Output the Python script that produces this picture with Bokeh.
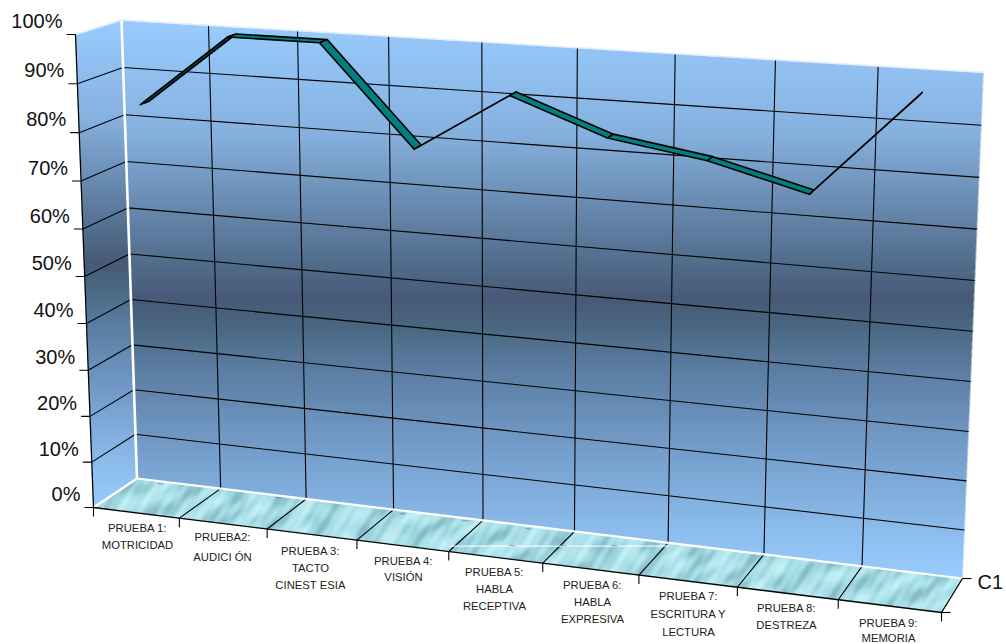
import numpy as np
from bokeh.plotting import figure
from bokeh.core.properties import value
from bokeh.embed import file_html
from bokeh.resources import INLINE

# Chart data
categories = [
    ["PRUEBA 1:", "MOTRICIDAD"],
    ["PRUEBA2:", "AUDICI ÓN"],
    ["PRUEBA 3:", "TACTO", "CINEST ESIA"],
    ["PRUEBA 4:", "VISIÓN"],
    ["PRUEBA 5:", "HABLA", "RECEPTIVA"],
    ["PRUEBA 6:", "HABLA", "EXPRESIVA"],
    ["PRUEBA 7:", "ESCRITURA Y", "LECTURA"],
    ["PRUEBA 8:", "DESTREZA"],
    ["PRUEBA 9:", "MEMORIA"],
]
scores = [85, 100, 100, 80, 92, 85, 82, 77, 97]
percent_ticks = [0, 10, 20, 30, 40, 50, 60, 70, 80, 90, 100]
series_name = "C1"

W, H = 1006, 644
# Corners of the chart box in page pixels (y measured from the top)
BACK = [(136.5, 478), (962, 578), (983, 72), (121, 19.5)]
FRONT = [(93, 507), (941, 612), (966, 90), (75, 34)]


def homography(corners):
    src = [(0, 0), (1, 0), (1, 1), (0, 1)]
    a, b = [], []
    for (u, v), (x, y) in zip(src, corners):
        a.append([u, v, 1, 0, 0, 0, -u * x, -v * x])
        a.append([0, 0, 0, u, v, 1, -u * y, -v * y])
        b += [x, y]
    return np.append(np.linalg.solve(np.array(a, float), np.array(b, float)), 1).reshape(3, 3)


H_BACK, H_FRONT = homography(BACK), homography(FRONT)


def apply(h, u, v):
    q = h @ np.array([u, v, 1.0])
    return q[:2] / q[2]


def project(u, v, w):
    """u: along categories 0-1, v: value 0-1, w: depth 0 at back wall, 1 at front."""
    return (1 - w) * apply(H_BACK, u, v) + w * apply(H_FRONT, u, v)


def flip(pt):
    return float(pt[0]), float(H - pt[1])


# Wall and floor fill, rasterised once with soft polygon edges
SS = 3
xs = (np.arange(W * SS) + 0.5) / SS
ys = (np.arange(H * SS) + 0.5) / SS
GX, GY = np.meshgrid(xs, ys)


def coverage(poly):
    inside = np.ones(GX.shape, bool)
    n = len(poly)
    area = sum(poly[i][0] * poly[(i + 1) % n][1] - poly[(i + 1) % n][0] * poly[i][1] for i in range(n))
    sign = 1 if area > 0 else -1
    for i in range(n):
        (x0, y0), (x1, y1) = poly[i], poly[(i + 1) % n]
        inside &= sign * ((x1 - x0) * (GY - y0) - (y1 - y0) * (GX - x0)) >= 0
    return inside.reshape(H, SS, W, SS).mean(axis=(1, 3))


PX, PY = np.meshgrid(np.arange(W) + 0.5, np.arange(H) + 0.5)
STOPS = [0, 0.20, 0.36, 0.44, 0.50, 0.55, 0.62, 0.75, 0.90, 1]
REDS = [0x99, 0x87, 0x62, 0x50, 0x47, 0x4A, 0x5A, 0x72, 0x8A, 0x99]
GREENS = [0xCC, 0xB2, 0x82, 0x6C, 0x5A, 0x68, 0x7C, 0x99, 0xBA, 0xCC]
BLUES = [0xFF, 0xE0, 0xA6, 0x8A, 0x78, 0x82, 0xA0, 0xC6, 0xEA, 0xFF]


def wall_gradient(top, bottom):
    f = (PY - top) / (bottom - top)
    return np.dstack([np.interp(f, STOPS, c) for c in (REDS, GREENS, BLUES)])


def floor_texture():
    a = PX + 1.05 * PY
    b = PX * 0.35 - PY * 0.9
    n = (0.50 * np.sin(a * 0.105 + 1.0 + 1.3 * np.sin(b * 0.07))
         + 0.35 * np.sin(a * 0.27 + 2.0 + 1.1 * np.sin(b * 0.11 + 0.5))
         + 0.30 * np.sin(b * 0.23 + 0.7 * np.sin(a * 0.05)) * np.sin(a * 0.06 + 0.4)
         + 0.22 * np.sin(a * 0.53 + b * 0.21))
    n = np.clip(n, -1, 1)
    dark, mid, light = (0x86, 0xBC, 0xC5), (0xA8, 0xDF, 0xE8), (0xC2, 0xF0, 0xF5)
    return np.dstack([np.interp(n, [-1, 0, 1], [dark[i], mid[i], light[i]]) for i in range(3)])


left_poly = [FRONT[3], BACK[3], BACK[0], FRONT[0]]
floor_poly = [BACK[0], BACK[1], FRONT[1], FRONT[0]]

rgb = np.full((H, W, 3), 255.0)
for poly, fill in [(BACK, wall_gradient(19.5, 578)),
                   (left_poly, wall_gradient(19.5, 507)),
                   (floor_poly, floor_texture())]:
    alpha = coverage(poly)[..., None]
    rgb = rgb * (1 - alpha) + fill * alpha
rgb = rgb.astype(np.uint8)
rgba = np.dstack([rgb, np.full((H, W), 255, np.uint8)])
img = rgba[::-1].copy().view(dtype=np.uint32).reshape(H, W)

p = figure(width=W, height=H, x_range=(0, W), y_range=(0, H), output_backend="svg",
           toolbar_location=None, min_border=0, x_axis_type=None, y_axis_type=None)
p.grid.visible = False
p.outline_line_color = None
p.image_rgba(image=[img], x=0, y=0, dw=W, dh=H)


def polyline(points, color="#000000", width=1.0, alpha=1.0):
    pts = [flip(q) for q in points]
    p.line([q[0] for q in pts], [q[1] for q in pts], line_color=color, line_width=width, line_alpha=alpha)


n_cat = len(categories)

# Gridlines on the back wall and the side wall
for t in percent_ticks[1:-1]:
    v = t / 100
    polyline([project(0, v, 1), project(0, v, 0), project(1, v, 0)], width=1.1)
for i in range(1, n_cat):
    polyline([project(i / n_cat, 1, 0), project(i / n_cat, 0, 0), project(i / n_cat, 0, 1)], width=1.1)

# White seams between the walls and floor
polyline([project(0, 1, 0), project(0, 0, 0)], "#FFFFFF", 2.6)
polyline([project(0, 0, 1), project(0, 0, 0), project(1, 0, 0)], "#FFFFFF", 2.2)
polyline([project(0, 1, 1), project(0, 1, 0), project(1, 1, 0)], "#E4EEFA", 1.4)
polyline([(450, 545.6), (668, 545.6)], "#FFFFFF", 1.2, 0.85)

# Small marks in the floor finish
for (sx, sy) in [(160, 483), (278, 497), (402, 513), (465, 520), (528, 528), (512, 545), (563, 545), (614, 545)]:
    polyline([(sx - 3, sy), (sx + 3, sy + 0.5)], "#6E7F8C", 1.2, 0.7)

# Outer axes and tick marks
polyline([project(0, 1, 1), project(0, 0, 1), project(1, 0, 1), project(1, 0, 0)], width=1.3)
for t in percent_ticks:
    a = project(0, t / 100, 1)
    polyline([a, a - np.array([9, 0])], width=1.1)
    x, y = flip(a - np.array([13, 13.5]))
    p.text([x], [y], text=[f"{t}%"], text_font=value("Liberation Sans"), text_font_size="20px",
           text_color="#111111", text_align="right", text_baseline="middle")
for i in range(n_cat + 1):
    a = project(i / n_cat, 0, 1)
    polyline([a, a + np.array([0, 9])], width=1.1)
a = project(1, 0, 1)
polyline([a, a + np.array([9, 0])], width=1.1)
a = project(1, 0, 0)
polyline([a, a + np.array([9, 0])], width=1.1)
x, y = flip(a + np.array([15, 3]))
p.text([x], [y], text=[series_name], text_font=value("Liberation Sans"), text_font_size="20px",
       text_color="#111111", text_align="left", text_baseline="middle")

# Category labels, one text per line
label_centres = [137, 222, 310, 403, 494, 592, 688, 786, 888]
label_rows = [[527, 544], [536, 556], [550, 567, 584], [560, 576], [571, 588, 605],
              [584, 601, 618], [595, 613, 631], [607, 624], [622, 637]]
for lines, cx, rows in zip(categories, label_centres, label_rows):
    for line, ry in zip(lines, rows):
        p.text([cx], [H - ry], text=[line], text_font=value("Liberation Sans"), text_font_size="11.3px",
               text_color="#222222", text_align="center", text_baseline="middle")

# The 3D ribbon carrying the series
RIBBON_FRONT, RIBBON_BACK = 0.60, 0.40
for i in range(n_cat - 1):
    u0, u1 = (i + 0.5) / n_cat, (i + 1.5) / n_cat
    v0, v1 = scores[i] / 100, scores[i + 1] / 100
    quad = [flip(project(u0, v0, RIBBON_FRONT)), flip(project(u1, v1, RIBBON_FRONT)),
            flip(project(u1, v1, RIBBON_BACK)), flip(project(u0, v0, RIBBON_BACK))]
    face = "#004D4D" if v1 > v0 else "#008080"
    p.patch([q[0] for q in quad], [q[1] for q in quad], fill_color=face, line_color="#000000",
            line_width=1.6, line_join="round")

with open("out.html", "w") as f:
    f.write(file_html(p, INLINE))
